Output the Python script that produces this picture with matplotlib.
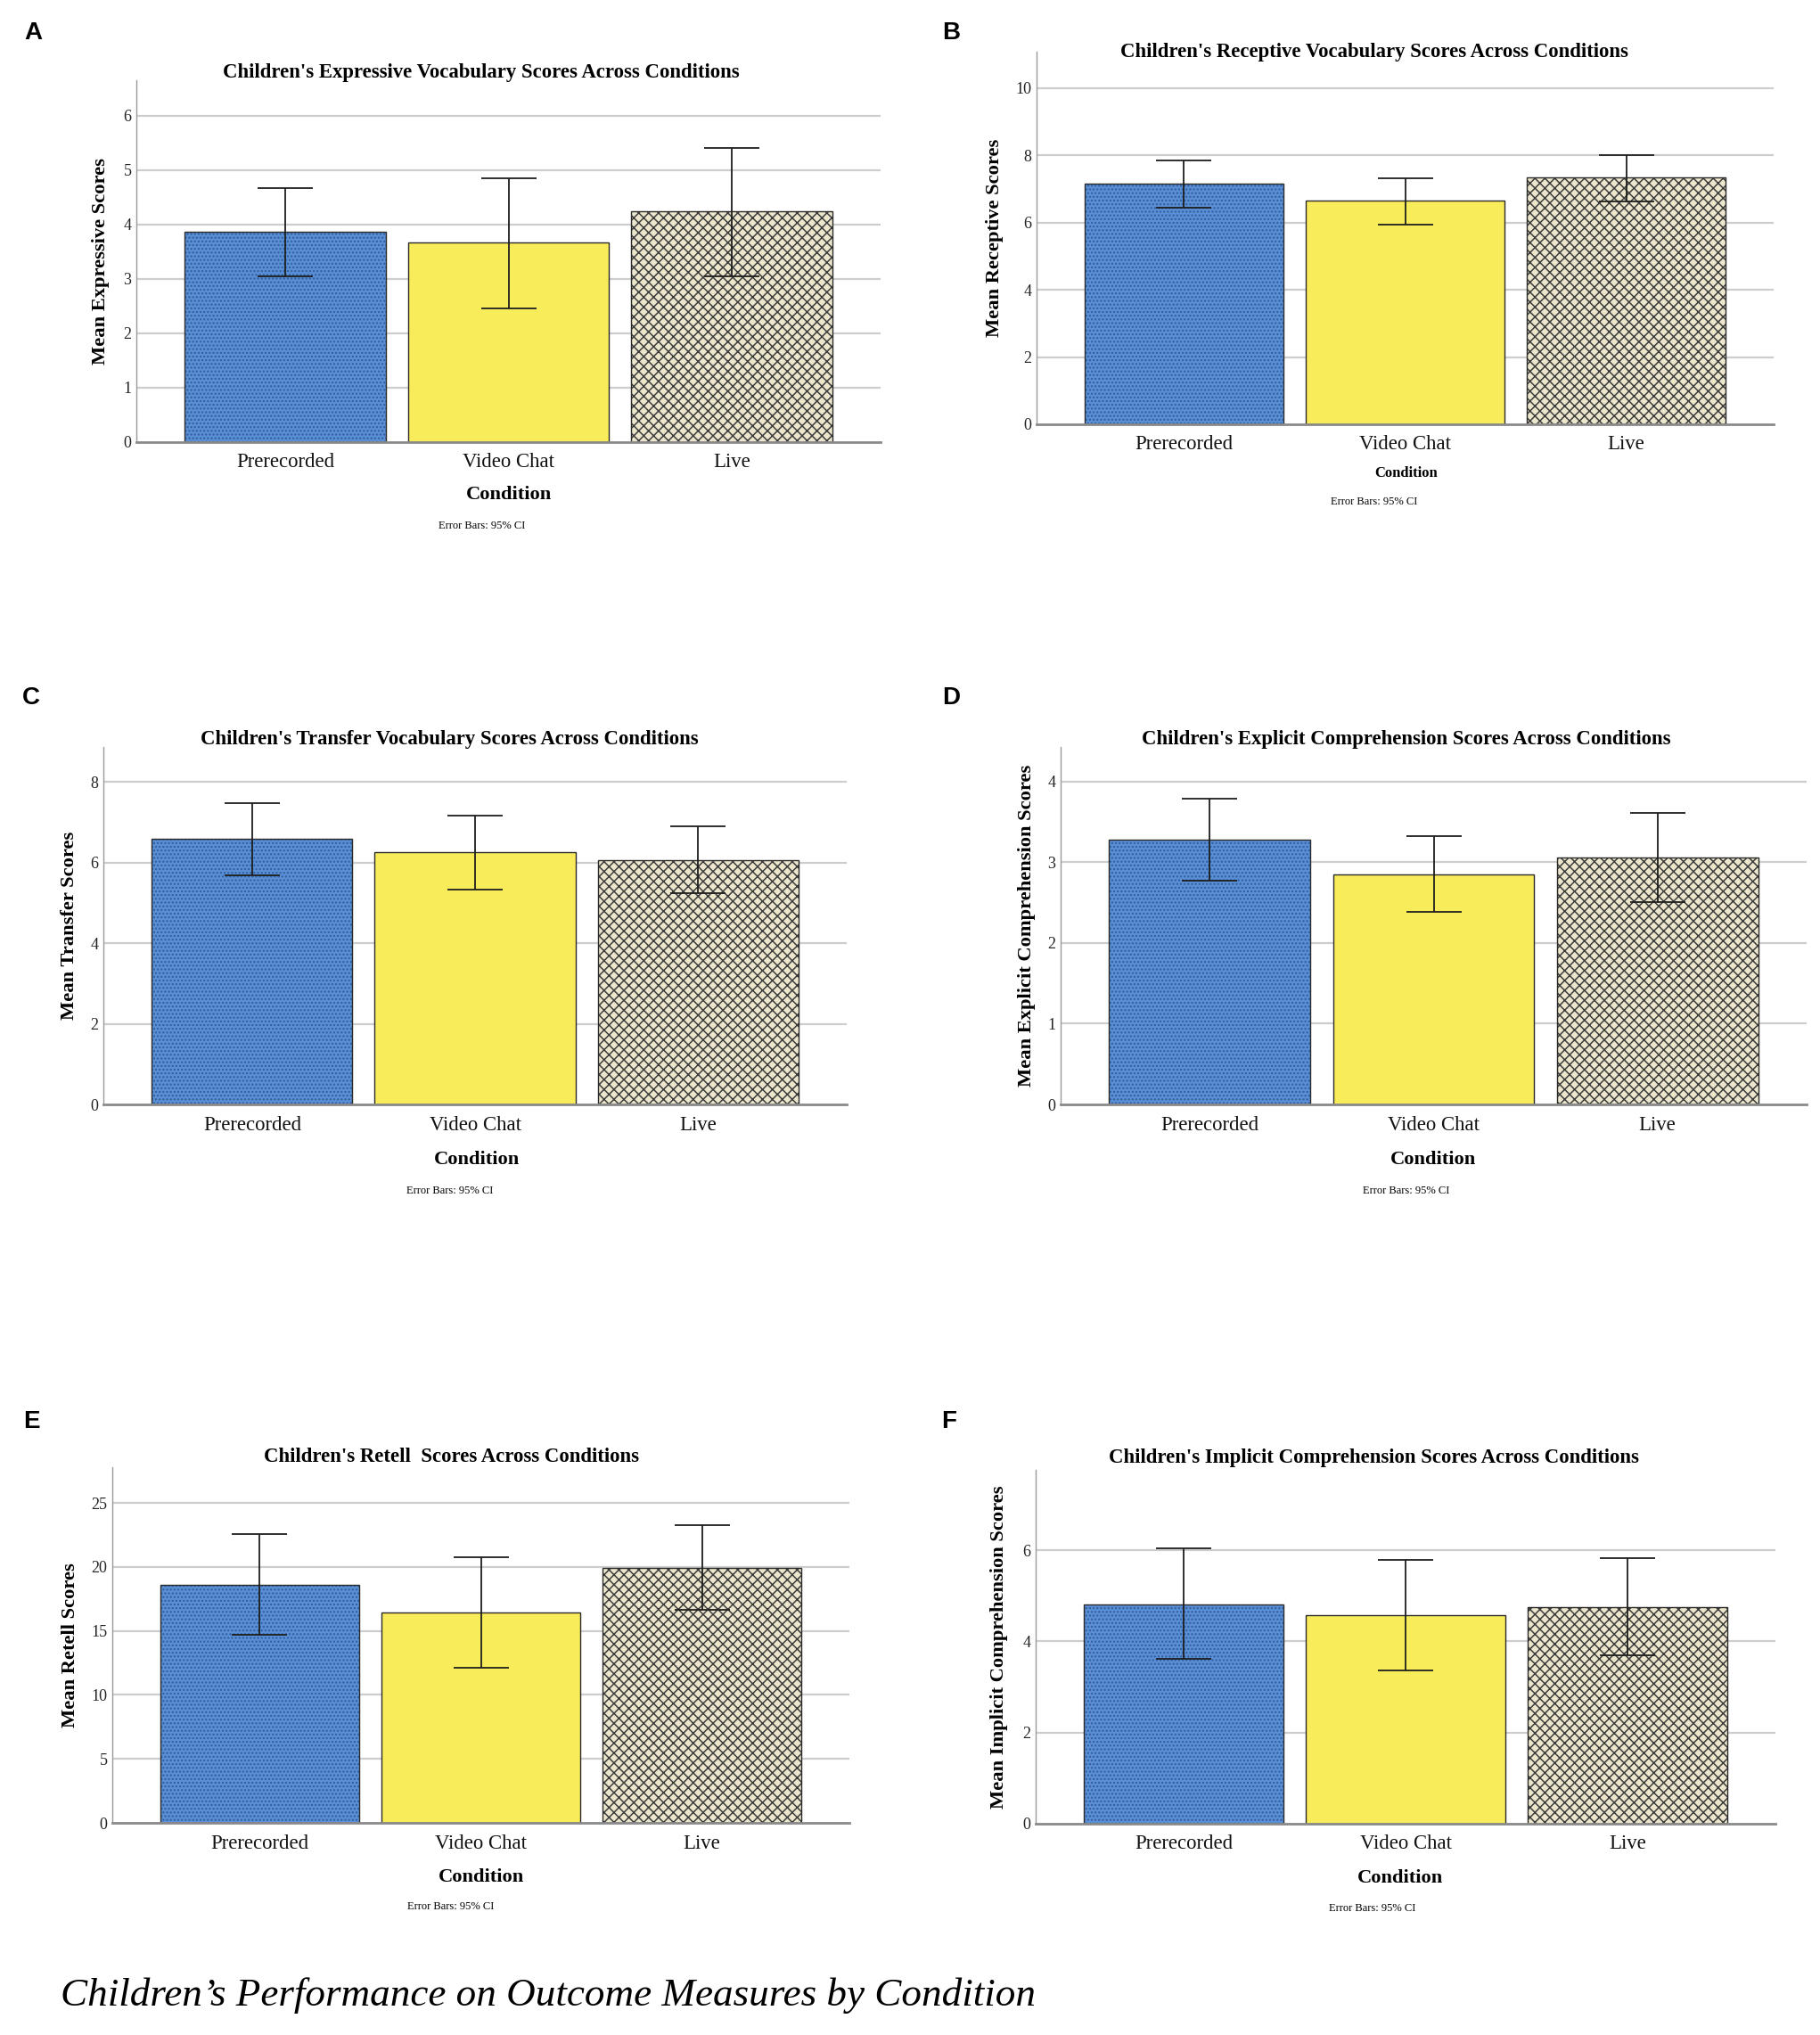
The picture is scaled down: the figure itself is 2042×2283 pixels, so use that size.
import matplotlib
matplotlib.use("Agg")
import matplotlib.pyplot as plt
import numpy as np

W, H = 2042, 2283
DPI = 100

# ---------------- data ----------------
conditions = ["Prerecorded", "Video Chat", "Live"]

expressive_mean = [3.87, 3.67, 4.24]
expressive_lo = [3.05, 2.46, 3.05]
expressive_hi = [4.66, 4.85, 5.40]

receptive_mean = [7.15, 6.65, 7.33]
receptive_lo = [6.45, 5.95, 6.64]
receptive_hi = [7.84, 7.31, 8.01]

transfer_mean = [6.59, 6.25, 6.07]
transfer_lo = [5.69, 5.34, 5.25]
transfer_hi = [7.48, 7.16, 6.90]

explicit_mean = [3.28, 2.85, 3.06]
explicit_lo = [2.77, 2.39, 2.51]
explicit_hi = [3.79, 3.32, 3.61]

retell_mean = [18.62, 16.47, 19.95]
retell_lo = [14.67, 12.14, 16.66]
retell_hi = [22.56, 20.78, 23.27]

implicit_mean = [4.81, 4.57, 4.75]
implicit_lo = [3.61, 3.37, 3.69]
implicit_hi = [6.04, 5.79, 5.82]

expressive_ticks = [0, 1, 2, 3, 4, 5, 6]
receptive_ticks = [0, 2, 4, 6, 8, 10]
transfer_ticks = [0, 2, 4, 6, 8]
explicit_ticks = [0, 1, 2, 3, 4]
retell_ticks = [0, 5, 10, 15, 20, 25]
implicit_ticks = [0, 2, 4, 6]

caption = "Children\u2019s Performance on Outcome Measures by Condition"

# ---------------- style ----------------
plt.rcParams['font.family'] = ['Liberation Serif', 'DejaVu Serif']
plt.rcParams['hatch.linewidth'] = 1.1

SANS = ['Liberation Sans', 'DejaVu Sans']
face_colors = ["#5b8fd6", "#f9ec5b", "#ece6cc"]
hatch_colors = ["#2e5f9f", "#f9ec5b", "#3d3d3d"]
hatches = ["....", "", "xxx"]

fig = plt.figure(figsize=(W / DPI, H / DPI), dpi=DPI)


def fx(x):
    return x / W


def fy(y):
    return 1 - y / H


panels = [
    dict(letter="A", title="Children's Expressive Vocabulary Scores Across Conditions",
         ylabel="Mean Expressive Scores", mean=expressive_mean, lo=expressive_lo, hi=expressive_hi,
         ticks=expressive_ticks, ytop=6.65, box=(153, 988, 90, 496), title_xy=(540, 81),
         letter_xy=(37, 37), cond_xy=(571, 555), err_xy=(541, 590), ylabel_x=113, cond_size=16.2),
    dict(letter="B", title="Children's Receptive Vocabulary Scores Across Conditions",
         ylabel="Mean Receptive Scores", mean=receptive_mean, lo=receptive_lo, hi=receptive_hi,
         ticks=receptive_ticks, ytop=11.08, box=(1163, 1990, 58, 476), title_xy=(1542, 58.5),
         letter_xy=(1067, 37), cond_xy=(1578, 531), err_xy=(1542, 563), ylabel_x=1116, cond_size=12),
    dict(letter="C", title="Children's Transfer Vocabulary Scores Across Conditions",
         ylabel="Mean Transfer Scores", mean=transfer_mean, lo=transfer_lo, hi=transfer_hi,
         ticks=transfer_ticks, ytop=8.87, box=(116, 950, 838, 1239), title_xy=(504, 829),
         letter_xy=(35, 783), cond_xy=(535, 1301), err_xy=(505, 1336), ylabel_x=78, cond_size=16.2),
    dict(letter="D", title="Children's Explicit Comprehension Scores Across Conditions",
         ylabel="Mean Explicit Comprehension Scores", mean=explicit_mean, lo=explicit_lo, hi=explicit_hi,
         ticks=explicit_ticks, ytop=4.43, box=(1190, 2027, 838, 1239), title_xy=(1578, 829),
         letter_xy=(1067, 783), cond_xy=(1608, 1301), err_xy=(1578, 1336), ylabel_x=1152, cond_size=16.2),
    dict(letter="E", title="Children's Retell  Scores Across Conditions",
         ylabel="Mean Retell Scores", mean=retell_mean, lo=retell_lo, hi=retell_hi,
         ticks=retell_ticks, ytop=27.8, box=(126, 953, 1646, 2045), title_xy=(506, 1634),
         letter_xy=(35, 1595), cond_xy=(540, 2106), err_xy=(506, 2139), ylabel_x=79, cond_size=16.2),
    dict(letter="F", title="Children's Implicit Comprehension Scores Across Conditions",
         ylabel="Mean Implicit Comprehension Scores", mean=implicit_mean, lo=implicit_lo, hi=implicit_hi,
         ticks=implicit_ticks, ytop=7.76, box=(1162, 1992, 1649, 2046), title_xy=(1541, 1635),
         letter_xy=(1065, 1595), cond_xy=(1571, 2107), err_xy=(1540, 2141), ylabel_x=1121, cond_size=16.2),
]

for p in panels:
    L, R, T, B = p["box"]
    ax = fig.add_axes([fx(L), fy(B), (R - L) / W, (B - T) / H])
    x = np.arange(len(conditions))
    ax.set_xlim(-0.667, len(conditions) - 1 + 0.667)
    ax.set_ylim(0, p["ytop"])
    for yt in p["ticks"][1:]:
        ax.axhline(yt, color="#cdcdcd", lw=1.6, zorder=0)
    mean = np.array(p["mean"])
    lo = np.array(p["lo"])
    hi = np.array(p["hi"])
    for i in range(len(conditions)):
        ax.bar(x[i], mean[i], width=0.9, color=face_colors[i], hatch=hatches[i],
               edgecolor=hatch_colors[i], linewidth=0, zorder=2)
        ax.bar(x[i], mean[i], width=0.9, fill=False, edgecolor="#2a2a2a",
               linewidth=1.0, zorder=3)
    ax.errorbar(x, mean, yerr=[mean - lo, hi - mean], fmt="none", ecolor="#1e1e1e",
                elinewidth=1.3, capsize=22.5, capthick=1.3, zorder=4)
    for s in ["top", "right"]:
        ax.spines[s].set_visible(False)
    ax.spines["left"].set_color("#9a9a9a")
    ax.spines["left"].set_linewidth(1.0)
    ax.spines["bottom"].set_color("#8a8a8a")
    ax.spines["bottom"].set_linewidth(2.0)
    ax.spines["bottom"].set_zorder(5)
    ax.set_yticks(p["ticks"])
    ax.set_yticklabels([str(t) for t in p["ticks"]])
    ax.set_xticks(x)
    ax.set_xticklabels(conditions)
    ax.tick_params(axis="y", length=0, pad=4, labelsize=13, labelcolor="#222222")
    ax.tick_params(axis="x", length=0, pad=9, labelsize=16.4, labelcolor="#111111")
    ax.set_facecolor("white")

    fig.text(fx(p["title_xy"][0]), fy(p["title_xy"][1]), p["title"], ha="center", va="center",
             fontsize=16.4, fontweight="bold")
    fig.text(fx(p["ylabel_x"]), fy((T + B) / 2), p["ylabel"], ha="center", va="center",
             rotation=90, fontsize=16.2, fontweight="bold")
    fig.text(fx(p["cond_xy"][0]), fy(p["cond_xy"][1]), "Condition", ha="center", va="center",
             fontsize=p["cond_size"], fontweight="bold")
    fig.text(fx(p["err_xy"][0]), fy(p["err_xy"][1]), "Error Bars: 95% CI", ha="center",
             va="center", fontsize=9)
    fig.text(fx(p["letter_xy"][0]), fy(p["letter_xy"][1]), p["letter"], ha="center",
             va="center", fontsize=20, fontweight="bold", family=SANS)

fig.text(fx(68), fy(2239), caption, ha="left", va="center", fontsize=32.5, fontstyle="italic")

fig.savefig("out.png", dpi=DPI, facecolor="white")
